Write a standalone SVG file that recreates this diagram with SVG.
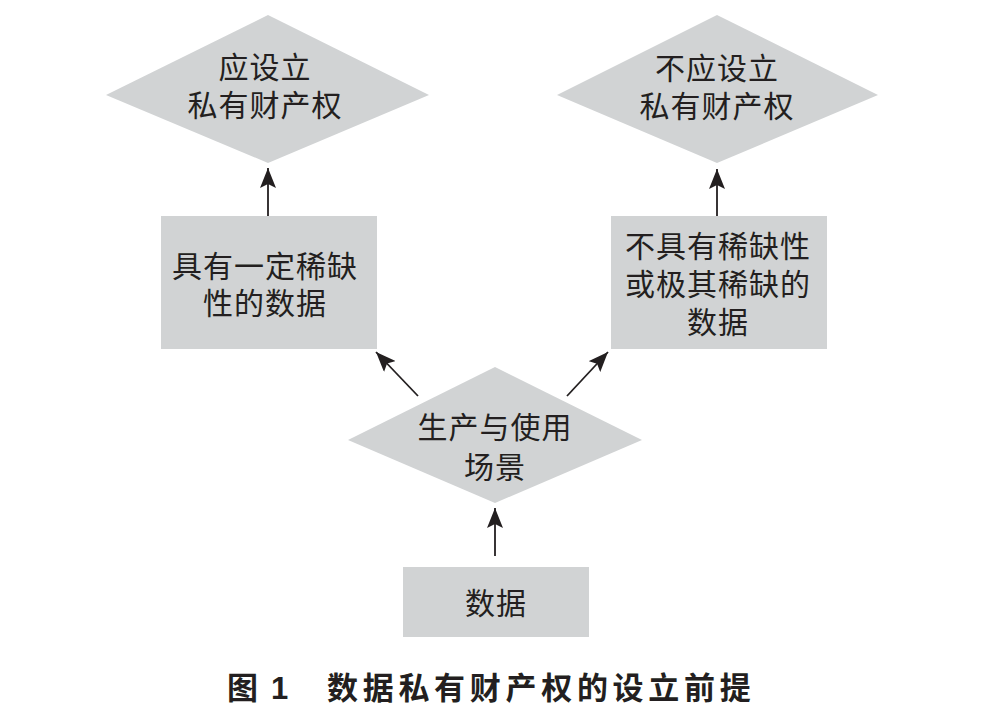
<svg xmlns="http://www.w3.org/2000/svg" width="1000" height="709" viewBox="0 0 1000 709">
<style>
.shape{fill:#d1d3d4;stroke:none}
.lbl{font-family:"Liberation Sans","Noto Sans CJK SC",sans-serif;font-size:30px;fill:#231f20;text-anchor:middle;dominant-baseline:central;letter-spacing:1px}
.edge{stroke:#231f20;stroke-width:1.8;fill:none;marker-end:url(#arr)}
.cap{font-family:"Liberation Sans","Noto Sans CJK SC",sans-serif;font-size:31px;font-weight:bold;fill:#231f20;dominant-baseline:central}
</style>
<defs>
<marker id="arr" viewBox="0 0 20 16" refX="20" refY="8" markerWidth="20" markerHeight="16" markerUnits="userSpaceOnUse" orient="auto">
<path d="M0,0 L20,8 L0,16 L4,8 z" fill="#231f20"/>
</marker>
</defs>
<rect width="1000" height="709" fill="#ffffff"/>
<g id="connectors">
<line class="edge" x1="268" y1="216" x2="268" y2="168"/>
<line class="edge" x1="717" y1="216" x2="717" y2="169"/>
<line class="edge" x1="418" y1="396" x2="376" y2="352"/>
<line class="edge" x1="567" y1="396" x2="608" y2="352"/>
<line class="edge" x1="495" y1="556" x2="495" y2="508"/>
</g>
<g id="node-should">
<polygon class="shape" points="268,15 429,95 268,163 106,95"/>
<text class="lbl" x="265" y="67">应设立</text>
<text class="lbl" x="265" y="105">私有财产权</text>
</g>
<g id="node-shouldnot">
<polygon class="shape" points="717,15 878,95 717,163 557,95"/>
<text class="lbl" x="717" y="68">不应设立</text>
<text class="lbl" x="717" y="106">私有财产权</text>
</g>
<g id="node-scarce">
<rect class="shape" x="161" y="216" width="216" height="133"/>
<text class="lbl" x="265" y="266">具有一定稀缺</text>
<text class="lbl" x="265" y="303">性的数据</text>
</g>
<g id="node-notscarce">
<rect class="shape" x="611" y="216" width="216" height="133"/>
<text class="lbl" x="718" y="246">不具有稀缺性</text>
<text class="lbl" x="718" y="284">或极其稀缺的</text>
<text class="lbl" x="718" y="322">数据</text>
</g>
<g id="node-scene">
<polygon class="shape" points="495,367 642,440 495,503 348,440"/>
<text class="lbl" x="495" y="427">生产与使用</text>
<text class="lbl" x="495" y="467">场景</text>
</g>
<g id="node-data">
<rect class="shape" x="403" y="567" width="186" height="70"/>
<text class="lbl" x="496" y="603">数据</text>
</g>
<g id="caption">
<text class="cap" y="688"><tspan x="227">图 </tspan><tspan x="271">1</tspan><tspan x="327" letter-spacing="4.7px">数据私有财产权的设立前提</tspan></text>
</g>
</svg>
